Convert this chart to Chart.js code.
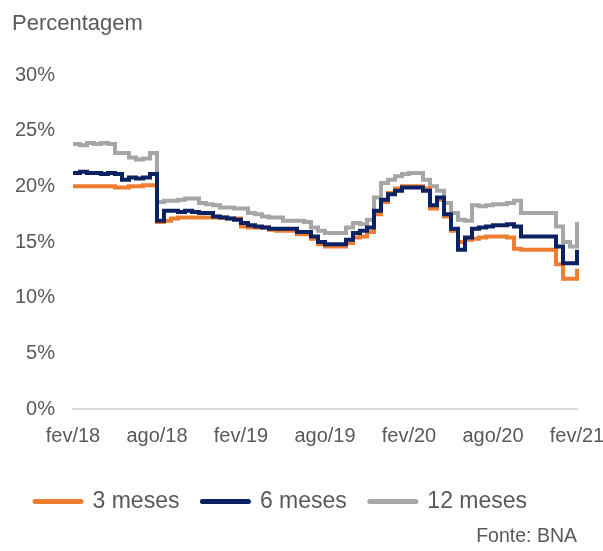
<!DOCTYPE html>
<html>
<head>
<meta charset="utf-8">
<script src="https://cdn.jsdelivr.net/npm/chart.js@4"></script>
<style>
  body { margin: 0; background: #fff; }
  #wrap { width: 603px; height: 551px; }
</style>
</head>
<body>
<div id="wrap"><canvas id="mycanvas"></canvas></div>
<script>
// meses do eixo (fev/18 a fev/21), uma observacao por quinzena
var mesesNomes = ['fev', 'mar', 'abr', 'mai', 'jun', 'jul', 'ago', 'set', 'out', 'nov', 'dez', 'jan'];
var anoInicial = 18;
var numMeses = 36;

// taxas em %, por quinzena
var tres = [
	20.0, 20.0, 20.0, 20.0, 20.0, 20.0, 19.9, 19.9, 20.0, 20.0, 20.1, 20.1,
	16.8, 16.9, 17.1, 17.2, 17.2, 17.2, 17.2, 17.2, 17.2, 17.2, 17.1, 17.1,
	16.4, 16.3, 16.3, 16.3, 16.1, 16.0, 16.0, 16.0,
	15.7, 15.7, 15.3, 14.8, 14.6, 14.6, 14.6, 14.9,
	15.4, 15.5, 15.9, 17.5, 18.6, 19.4, 19.8, 20.0,
	20.0, 20.0, 19.8, 18.0, 18.8, 17.3, 16.0, 15.0,
	15.2, 15.3, 15.4, 15.5, 15.5, 15.5, 15.4, 14.4,
	14.3, 14.3, 14.3, 14.3, 14.3, 13.0, 11.7, 11.7,
	12.6
];
var seis = [
	21.2, 21.3, 21.2, 21.2, 21.1, 21.2, 21.1, 20.6, 20.8, 20.7, 20.8, 21.1,
	16.9, 17.8, 17.8, 17.7, 17.8, 17.7, 17.6, 17.6, 17.3, 17.2, 17.1, 17.0,
	16.7, 16.5, 16.4, 16.3, 16.2, 16.2, 16.2, 16.2,
	15.9, 15.9, 15.5, 15.0, 14.8, 14.8, 14.8, 15.2,
	15.8, 16.0, 16.3, 17.8, 18.8, 19.3, 19.6, 19.9,
	19.9, 19.9, 19.6, 18.3, 19.0, 17.5, 16.2, 14.3,
	15.4, 16.2, 16.3, 16.4, 16.5, 16.5, 16.6, 16.4,
	15.5, 15.5, 15.5, 15.5, 15.5, 14.6, 13.1, 13.1,
	14.3
];
var doze = [
	23.8, 23.7, 23.9, 23.8, 23.9, 23.8, 23.0, 23.0, 22.6, 22.4, 22.5, 23.0,
	18.6, 18.7, 18.7, 18.8, 18.9, 18.9, 18.5, 18.4, 18.3, 18.1, 18.1, 18.0,
	18.0, 17.6, 17.5, 17.3, 17.2, 17.2, 16.9, 16.9,
	16.9, 16.8, 16.3, 16.0, 15.8, 15.8, 15.8, 16.3,
	16.7, 16.6, 17.0, 19.0, 20.3, 20.6, 20.9, 21.1,
	21.2, 21.2, 20.6, 20.0, 19.6, 18.5, 17.6, 17.0,
	16.9, 18.3, 18.2, 18.3, 18.4, 18.4, 18.5, 18.7,
	17.6, 17.6, 17.6, 17.6, 17.6, 16.4, 15.0, 14.6,
	16.8
];

var periodos = [];
for (var m = 0; m <= numMeses; m++) {
	var nome = mesesNomes[m % 12] + '/' + (anoInicial + Math.floor((m + 1) / 12));
	periodos.push(nome);
	if (m < numMeses) periodos.push('2ª quinz. ' + nome);
}

var cinza = '#595959';
var fonte = 'Liberation Sans, Arial, sans-serif';

var chartdata = {
	labels: periodos,
	datasets: [
		{ label: '3 meses', data: tres, borderColor: '#ED7D31', backgroundColor: '#ED7D31', order: 1 },
		{ label: '6 meses', data: seis, borderColor: '#0B2262', backgroundColor: '#0B2262', order: 0 },
		{ label: '12 meses', data: doze, borderColor: '#A6A6A6', backgroundColor: '#A6A6A6', order: 2 }
	]
};

var ctx = document.getElementById('mycanvas');

var lineGraph = new Chart(ctx, {
	type: 'line',
	data: chartdata,
	options: {
		responsive: true,
		maintainAspectRatio: false,
		animation: false,
		layout: { padding: { left: 12, right: 26, top: 0, bottom: 2.6 } },
		elements: {
			line: { borderWidth: 4, stepped: true, tension: 0 },
			point: { radius: 0, hoverRadius: 0 }
		},
		scales: {
			x: {
				grid: { display: false, drawTicks: false },
				border: { display: true, color: '#D9D9D9', width: 2 },
				ticks: {
					autoSkip: false,
					maxRotation: 0,
					padding: 15,
					color: cinza,
					font: { family: fonte, size: 20 },
					callback: function(v, i) { return i % 12 === 0 ? this.getLabelForValue(v) : null; }
				},
				afterFit: function(s) { s.height += 4; s.paddingRight = 0; s.paddingLeft = 0; }
			},
			y: {
				min: 0,
				max: 30,
				grid: { display: false, drawTicks: false },
				border: { display: false },
				ticks: {
					stepSize: 5,
					padding: 18,
					color: cinza,
					font: { family: fonte, size: 20 },
					callback: function(v) { return v + '%'; }
				},
				afterFit: function(s) { s.width = 61; }
			}
		},
		plugins: {
			tooltip: { enabled: false },
			title: {
				display: true,
				text: 'Percentagem',
				align: 'start',
				color: cinza,
				font: { family: fonte, size: 22, weight: 'normal' },
				padding: { top: 11, bottom: 37.6 }
			},
			subtitle: {
				display: true,
				text: 'Fonte: BNA',
				position: 'bottom',
				align: 'end',
				color: cinza,
				font: { family: fonte, size: 19.5, weight: 'normal' },
				padding: { top: 2, bottom: 0 }
			},
			legend: {
				position: 'bottom',
				align: 'start',
				labels: {
					usePointStyle: true,
					pointStyleWidth: 46,
					padding: 23,
					color: cinza,
					font: { family: fonte, size: 23 },
					sort: function(a, b) { return a.datasetIndex - b.datasetIndex; },
					generateLabels: function(chart) {
						var items = Chart.defaults.plugins.legend.labels.generateLabels(chart);
						items.forEach(function(it) {
							it.pointStyle = 'line';
							it.lineWidth = 5;
							it.lineCap = 'round';
						});
						return items;
					}
				}
			}
		}
	}
});
</script>
</body>
</html>
